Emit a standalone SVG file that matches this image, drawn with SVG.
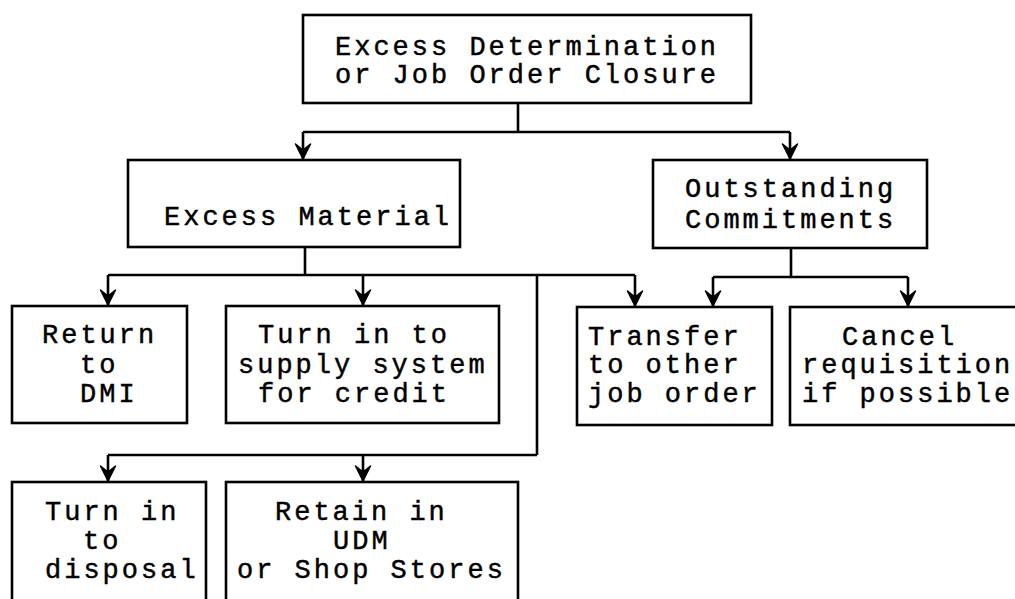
<svg xmlns="http://www.w3.org/2000/svg" width="1015" height="599" viewBox="0 0 1015 599">
<style>
.box{fill:#fff;stroke:#000;stroke-width:2.6}
.t{font-family:"Liberation Mono","Courier New",monospace;font-size:27px;letter-spacing:3px;fill:#000;stroke:#000;stroke-width:0.45}
.c{fill:none;stroke:#000;stroke-width:2.6}
</style>
<defs>
<marker id="ah" markerUnits="userSpaceOnUse" markerWidth="20" markerHeight="20" orient="auto" refX="0" refY="0" overflow="visible">
<path d="M-15,-7.5 L0,0 L-15,7.5 L-9,0 Z" fill="#000" stroke="#000" stroke-width="1.5" stroke-linejoin="round"/>
</marker>
</defs>
<rect width="1015" height="599" fill="#fff"/>
<g id="connectors">
<path class="c" d="M518,103 V132 M303,132 H790"/>
<path class="c" d="M303,132 V159" marker-end="url(#ah)"/>
<path class="c" d="M790,132 V159" marker-end="url(#ah)"/>
<path class="c" d="M305,247 V275 M108,275 H635 M537,275 V455 M108,455 H537"/>
<path class="c" d="M108,275 V305" marker-end="url(#ah)"/>
<path class="c" d="M363,275 V305" marker-end="url(#ah)"/>
<path class="c" d="M635,275 V306" marker-end="url(#ah)"/>
<path class="c" d="M791,248 V277 M713,277 H908"/>
<path class="c" d="M713,277 V306" marker-end="url(#ah)"/>
<path class="c" d="M908,277 V306" marker-end="url(#ah)"/>
<path class="c" d="M108,455 V481" marker-end="url(#ah)"/>
<path class="c" d="M363,455 V481" marker-end="url(#ah)"/>
</g>
<g id="n-top">
<rect class="box" x="303" y="15" width="448" height="88"/>
<text class="t" x="335" y="55">Excess Determination</text>
<text class="t" x="335" y="83">or Job Order Closure</text>
</g>
<g id="n-excess">
<rect class="box" x="128" y="160" width="332" height="87"/>
<text class="t" x="164" y="225">Excess Material</text>
</g>
<g id="n-outstanding">
<rect class="box" x="653" y="160" width="274" height="88"/>
<text class="t" x="685" y="197">Outstanding</text>
<text class="t" x="685" y="228">Commitments</text>
</g>
<g id="n-return">
<rect class="box" x="12" y="306" width="175" height="117"/>
<text class="t" x="42" y="343">Return</text>
<text class="t" x="80" y="373">to</text>
<text class="t" x="80" y="402">DMI</text>
</g>
<g id="n-supply">
<rect class="box" x="226" y="306" width="273" height="117"/>
<text class="t" x="258" y="343">Turn in to</text>
<text class="t" x="238" y="373">supply system</text>
<text class="t" x="258" y="402">for credit</text>
</g>
<g id="n-transfer">
<rect class="box" x="577" y="307" width="195" height="118"/>
<text class="t" x="588" y="345">Transfer</text>
<text class="t" x="588" y="373">to other</text>
<text class="t" x="588" y="402">job order</text>
</g>
<g id="n-cancel">
<rect class="box" x="790" y="307" width="240" height="118"/>
<text class="t" x="842" y="345">Cancel</text>
<text class="t" x="802" y="373">requisition</text>
<text class="t" x="802" y="402">if possible</text>
</g>
<g id="n-disposal">
<rect class="box" x="12" y="482" width="194" height="130"/>
<text class="t" x="45" y="520">Turn in</text>
<text class="t" x="83" y="549">to</text>
<text class="t" x="45" y="578">disposal</text>
</g>
<g id="n-retain">
<rect class="box" x="226" y="482" width="292" height="130"/>
<text class="t" x="275" y="520">Retain in</text>
<text class="t" x="333" y="549">UDM</text>
<text class="t" x="237" y="578">or Shop Stores</text>
</g>
</svg>
